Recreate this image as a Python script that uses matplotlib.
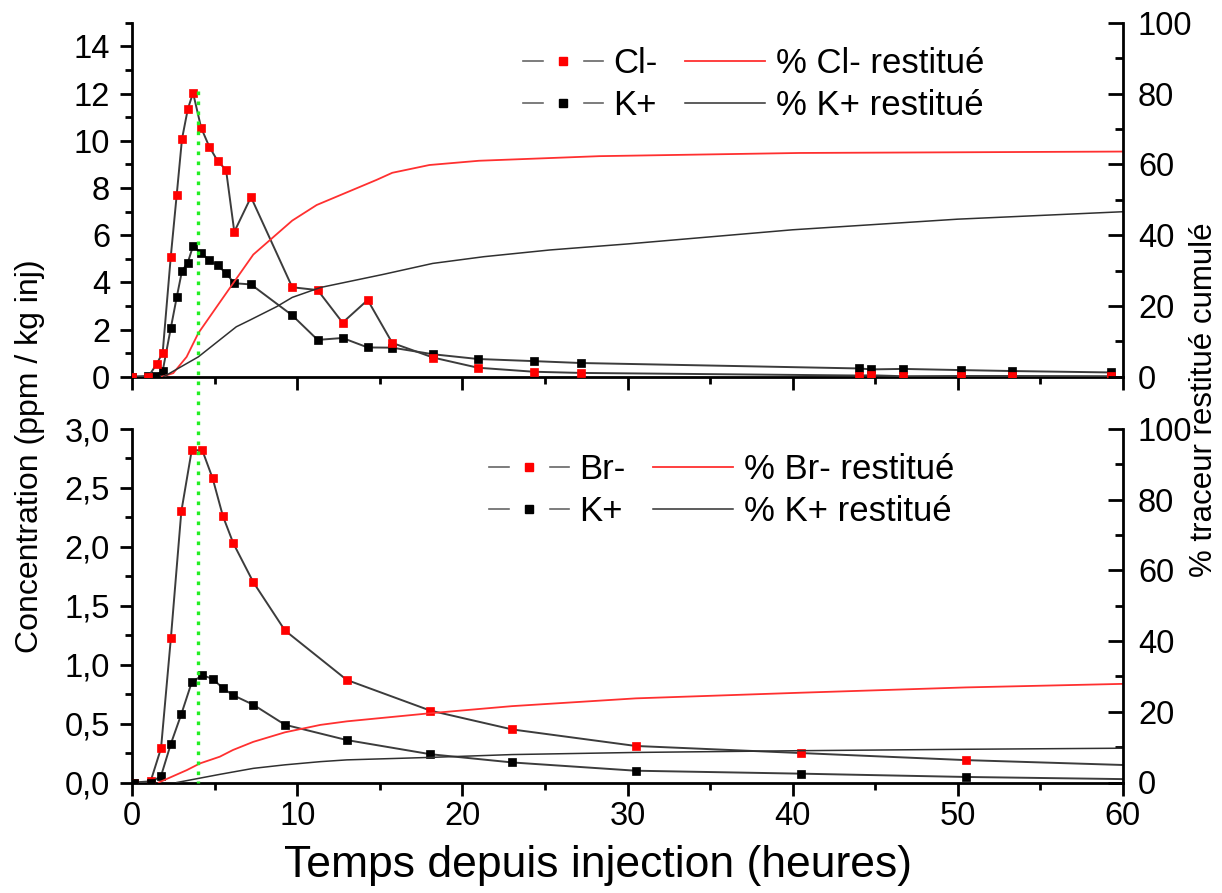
import matplotlib
matplotlib.use('Agg')
import matplotlib.pyplot as plt
from matplotlib.lines import Line2D
from matplotlib.legend_handler import HandlerTuple
from matplotlib.ticker import MultipleLocator, FuncFormatter

# ---------------- data ----------------
# Top panel: Cl- and K+ concentrations
t_cl = [0, 0.97, 1.48, 1.84, 2.33, 2.69, 3.01, 3.36, 3.68, 4.17, 4.66, 5.17, 5.68, 6.18, 7.19,
        9.69, 11.23, 12.74, 14.26, 15.75, 18.23, 20.94, 24.33, 27.17, 44.01, 44.78, 46.70,
        50.23, 53.30, 59.32]
cl = [0, 0, 0.54, 1.02, 5.08, 7.70, 10.07, 11.33, 12.03, 10.55, 9.75, 9.14, 8.76, 6.14, 7.61,
      3.79, 3.67, 2.29, 3.25, 1.43, 0.81, 0.38, 0.21, 0.16, 0.05, 0.06, 0.02, 0.03, 0.03, 0.02]
t_k1 = [0, 0.97, 1.37, 1.84, 2.33, 2.69, 3.01, 3.36, 3.68, 4.17, 4.66, 5.17, 5.68, 6.18, 7.19,
        9.69, 11.23, 12.74, 14.26, 15.75, 18.23, 20.94, 24.33, 27.17, 44.01, 44.78, 46.70,
        50.23, 53.30, 59.32]
k1 = [0, 0.03, 0.05, 0.24, 2.05, 3.36, 4.48, 4.83, 5.54, 5.25, 4.93, 4.72, 4.38, 3.96, 3.91,
      2.60, 1.56, 1.64, 1.24, 1.23, 0.95, 0.75, 0.66, 0.58, 0.35, 0.31, 0.33, 0.28, 0.24, 0.18]
# Top panel: cumulative recovery (%)
tc_cl = [1.8, 2.48, 3.29, 4.0, 5.3, 6.2, 7.33, 9.69, 11.17, 14.8, 15.75, 18.0, 21.0, 28.3, 40.4, 60]
pc_cl = [0, 1.0, 5.6, 12.3, 21.0, 27.0, 34.5, 44.1, 48.5, 55.6, 57.6, 59.8, 61.0, 62.3, 63.2, 63.6]
tc_k1 = [1.9, 4.0, 6.3, 7.13, 8.75, 9.69, 11.4, 15.2, 18.2, 21.3, 25.3, 30, 40, 45, 50, 60]
pc_k1 = [0, 5.6, 14.1, 16.0, 19.8, 22.4, 25.2, 28.9, 32.0, 33.9, 35.8, 37.5, 41.5, 43.0, 44.5, 46.6]

# Bottom panel: Br- and K+ concentrations
t_br = [0.1, 1.11, 1.74, 2.34, 2.97, 3.60, 4.24, 4.87, 5.49, 6.12, 7.33, 9.25, 13.0, 18.06,
        23.03, 30.5, 40.5, 50.5, 62]
br = [0, 0.01, 0.29, 1.23, 2.30, 2.82, 2.82, 2.58, 2.26, 2.03, 1.70, 1.29, 0.87, 0.61, 0.45,
      0.31, 0.25, 0.19, 0.14]
k2 = [0, 0, 0.055, 0.33, 0.58, 0.85, 0.91, 0.88, 0.80, 0.74, 0.66, 0.49, 0.36, 0.24, 0.17,
      0.10, 0.075, 0.047, 0.025]
# Bottom panel: cumulative recovery (%)
tc_br = [1.6, 3.3, 4.1, 5.3, 6.1, 7.33, 9.25, 11.4, 13.0, 18.06, 23.0, 30.5, 40.5, 50.5, 60]
pc_br = [0, 3.5, 5.4, 7.3, 9.2, 11.5, 14.2, 16.3, 17.3, 19.6, 21.6, 23.8, 25.4, 26.9, 27.9]
tc_k2 = [2.7, 5.3, 7.33, 9.25, 11.4, 13.0, 18.06, 23.0, 30.5, 40.5, 50.5, 60]
pc_k2 = [0, 2.3, 4.0, 5.0, 5.9, 6.4, 7.1, 7.9, 8.5, 9.0, 9.4, 9.7]

t_peak = 4.0
peak_top = 12.1

# ---------------- figure ----------------
plt.rcParams['font.family'] = ['Liberation Sans', 'DejaVu Sans']
W, H = 1222, 893
fig = plt.figure(figsize=(W / 100, H / 100), dpi=100)


def px_axes(l, t, r, b):
    return fig.add_axes([l / W, 1 - b / H, (r - l) / W, (b - t) / H])


ax1 = px_axes(132.3, 22.7, 1122.7, 376.7)
ax2 = px_axes(132.3, 429, 1122.7, 782.5)
ax1r = ax1.twinx()
ax2r = ax2.twinx()

LC = '#3c3c3c'
TICK_FS = 23.5
LEG_FS = 25


def conc(ax, t, y, mcol):
    ax.plot(t, y, color=LC, lw=1.4, marker='s', ms=5.2, mfc=mcol, mec=mcol, mew=0.5, zorder=3)


conc(ax1, t_k1, k1, 'black')
conc(ax1, t_cl, cl, '#ff0000')
ax1r.plot(tc_cl, pc_cl, color='#ff3030', lw=1.3)
ax1r.plot(tc_k1, pc_k1, color='#303030', lw=1.1)

conc(ax2, t_br, br, '#ff0000')
conc(ax2, t_br, k2, 'black')
ax2r.plot(tc_br, pc_br, color='#ff3030', lw=1.3)
ax2r.plot(tc_k2, pc_k2, color='#303030', lw=1.1)

for ax in (ax1, ax2):
    ax.set_xlim(0, 60)
    ax.xaxis.set_major_locator(MultipleLocator(10))
    ax.xaxis.set_minor_locator(MultipleLocator(5))
ax1.set_ylim(0, 15)
ax1.set_yticks(range(0, 15, 2))
ax1.yaxis.set_minor_locator(MultipleLocator(1))
ax2.set_ylim(0, 3.0)
ax2.yaxis.set_major_locator(MultipleLocator(0.5))
ax2.yaxis.set_minor_locator(MultipleLocator(0.25))
ax2.yaxis.set_major_formatter(FuncFormatter(lambda v, p: f'{v:.1f}'.replace('.', ',')))
for axr in (ax1r, ax2r):
    axr.set_ylim(0, 100)
    axr.yaxis.set_major_locator(MultipleLocator(20))
    axr.yaxis.set_minor_locator(MultipleLocator(10))

for ax in (ax1, ax2):
    for s in ('top', 'right'):
        ax.spines[s].set_visible(False)
    for s in ('left', 'bottom'):
        ax.spines[s].set_linewidth(2)
    ax.tick_params(axis='x', which='both', direction='out', width=2, labelsize=TICK_FS, pad=4)
    ax.tick_params(axis='x', which='major', length=9)
    ax.tick_params(axis='x', which='minor', length=5)
    ax.tick_params(axis='y', which='both', direction='out', width=2, labelsize=TICK_FS, pad=7)
    ax.tick_params(axis='y', which='major', length=9)
    ax.tick_params(axis='y', which='minor', length=5)
ax1.tick_params(axis='x', labelbottom=False)
for axr in (ax1r, ax2r):
    for s in ('top', 'left', 'bottom'):
        axr.spines[s].set_visible(False)
    axr.spines['right'].set_linewidth(2)
    axr.tick_params(axis='y', which='both', direction='in', width=2, labelsize=TICK_FS, pad=11)
    axr.tick_params(axis='y', which='major', length=11)
    axr.tick_params(axis='y', which='minor', length=6)

# dotted green marker of the peak time, spanning both panels
fig.canvas.draw()
inv = fig.transFigure.inverted()
p_top = inv.transform(ax1.transData.transform((t_peak, peak_top)))
p_bot = inv.transform(ax2.transData.transform((t_peak, 0)))
fig.add_artist(Line2D([p_top[0], p_bot[0]], [p_top[1], p_bot[1]], transform=fig.transFigure,
                      color='#22ee22', lw=2.4, ls=(0, (1.1, 1.9)), dash_capstyle='butt', zorder=10))

# legends
def mk_handle(col):
    return (Line2D([], [], color='#666666', lw=1.2, marker='s', ms=27, mfc='white', mec='white'),
            Line2D([], [], ls='none', marker='s', ms=5.2, mfc=col, mec=col))


def make_legend(ax, labels, anchor):
    handles = [mk_handle('#ff0000'), mk_handle('black'),
               Line2D([], [], color='#ff3030', lw=1.3), Line2D([], [], color='#303030', lw=1.1)]
    leg = ax.legend(handles, labels, ncol=2, frameon=False, fontsize=LEG_FS,
                    handler_map={tuple: HandlerTuple(ndivide=1)},
                    handlelength=2.3, handletextpad=0.3, columnspacing=0.8,
                    labelspacing=0.27, borderpad=0, borderaxespad=0,
                    loc='upper left', bbox_to_anchor=(anchor[0] / W, 1 - anchor[1] / H),
                    bbox_transform=fig.transFigure)
    return leg


make_legend(ax1r, ['Cl-', 'K+', '% Cl- restitué', '% K+ restitué'], (523, 47))
make_legend(ax2r, ['Br-', 'K+', '% Br- restitué', '% K+ restitué'], (489, 453))

# axis titles
fig.text(30 / W, 1 - 456 / H, 'Concentration (ppm / kg inj)', rotation=90, fontsize=23,
         ha='center', va='center')
fig.text(1203.5 / W, 1 - 400 / H, '% traceur restitué cumulé', rotation=90, fontsize=22.5,
         ha='center', va='center')
fig.text(598 / W, 1 - 866 / H, 'Temps depuis injection (heures)', fontsize=32,
         ha='center', va='center')

fig.savefig('out.png', dpi=100)
